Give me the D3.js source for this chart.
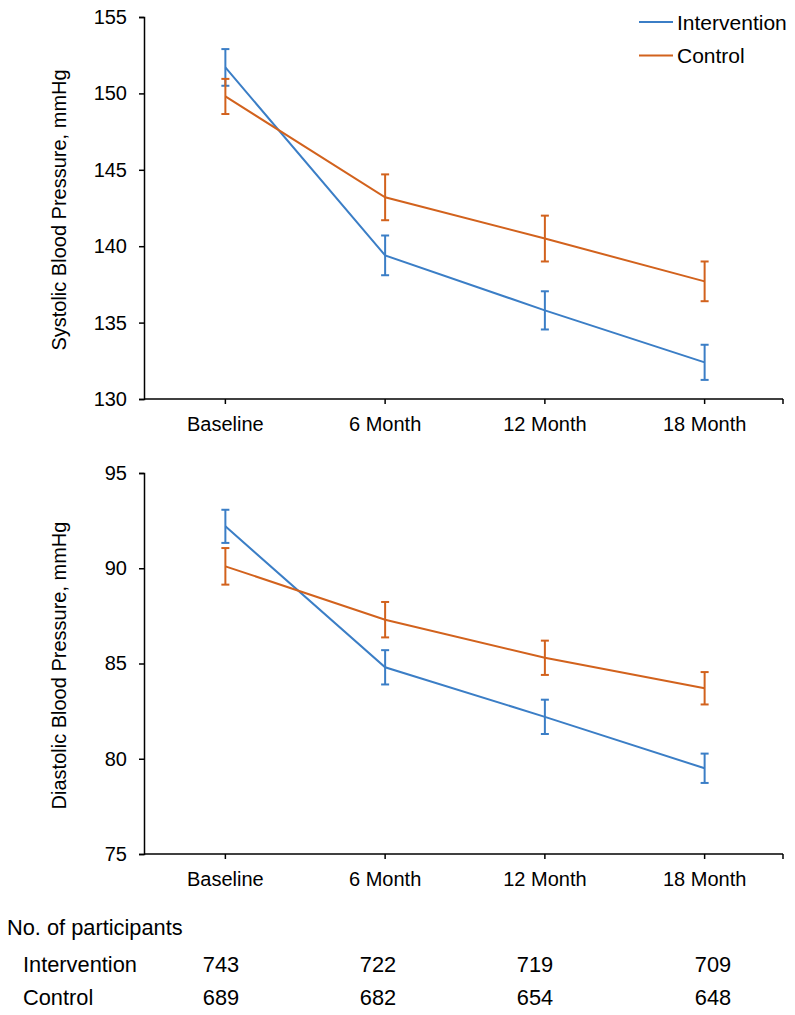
<!DOCTYPE html>
<html><head><meta charset="utf-8">
<script src="https://cdn.jsdelivr.net/npm/d3@7"></script>
<style>
body{margin:0;background:#fff;}
text{font-family:"Liberation Sans",Arial,sans-serif;fill:#000;}
</style></head>
<body>
<svg id="chart" width="795" height="1015"></svg>
<script>
const categories = ["Baseline", "6 Month", "12 Month", "18 Month"];
const seriesNames = ["Intervention", "Control"];

const sbpIntervention = [151.7, 139.4, 135.8, 132.4];
const sbpInterventionErr = [1.2, 1.3, 1.25, 1.15];
const sbpControl = [149.8, 143.2, 140.5, 137.7];
const sbpControlErr = [1.15, 1.5, 1.5, 1.3];

const dbpIntervention = [92.2, 84.8, 82.2, 79.5];
const dbpInterventionErr = [0.87, 0.9, 0.9, 0.77];
const dbpControl = [90.1, 87.3, 85.3, 83.7];
const dbpControlErr = [0.96, 0.93, 0.9, 0.85];

const sbpTicks = [130, 135, 140, 145, 150, 155];
const dbpTicks = [75, 80, 85, 90, 95];

const participantsIntervention = [743, 722, 719, 709];
const participantsControl = [689, 682, 654, 648];

const colors = {Intervention: "#3b7ec6", Control: "#d2621d"};
const svg = d3.select("#chart");

const left = 144, right = 783;
const x = d3.scaleBand().domain(categories).range([left, right]);
const cx = c => x(c) + x.bandwidth() / 2 + 1.5;

function panel(top, bottom, domain, ticks, title, intv, intvErr, ctl, ctlErr) {
  const y = d3.scaleLinear().domain(domain).range([bottom, top]);
  const g = svg.append("g");
  const ya = g.append("g").attr("transform", `translate(${left},0)`)
    .call(d3.axisLeft(y).tickValues(ticks).tickSize(5).tickPadding(12).tickFormat(d3.format("d")));
  ya.select(".domain").attr("stroke", "#000").attr("stroke-width", 1.5);
  ya.selectAll(".tick line").attr("stroke", "#000").attr("stroke-width", 1.5);
  ya.selectAll(".tick text").attr("font-size", 20).attr("font-family", "Liberation Sans, Arial, sans-serif").attr("fill", "#000");
  g.append("line").attr("x1", left).attr("x2", right).attr("y1", bottom).attr("y2", bottom)
    .attr("stroke", "#000").attr("stroke-width", 1.5);
  const tickXs = categories.map(cx).concat([right]);
  g.selectAll(".xt").data(tickXs).enter().append("line")
    .attr("x1", d => d).attr("x2", d => d).attr("y1", bottom).attr("y2", bottom + 5)
    .attr("stroke", "#000").attr("stroke-width", 1.5);
  g.selectAll(".xl").data(categories).enter().append("text")
    .attr("x", d => cx(d)).attr("y", bottom + 32).attr("text-anchor", "middle")
    .attr("font-size", 20).text(d => d);
  g.append("text").attr("transform", `translate(66,${(top + bottom) / 2 + 2}) rotate(-90)`)
    .attr("text-anchor", "middle").attr("font-size", 20).text(title);

  const series = [
    {name: "Intervention", vals: intv, err: intvErr},
    {name: "Control", vals: ctl, err: ctlErr}
  ];
  const line = d3.line().x((d, i) => cx(categories[i])).y(d => y(d));
  series.forEach(s => {
    const col = colors[s.name];
    g.append("path").datum(s.vals).attr("d", line).attr("fill", "none")
      .attr("stroke", col).attr("stroke-width", 2);
    const eb = g.append("g");
    s.vals.forEach((v, i) => {
      const xx = cx(categories[i]);
      const y1 = y(v + s.err[i]), y2 = y(v - s.err[i]);
      eb.append("line").attr("x1", xx).attr("x2", xx).attr("y1", y1).attr("y2", y2)
        .attr("stroke", col).attr("stroke-width", 2);
      [y1, y2].forEach(yy => eb.append("line").attr("x1", xx - 4).attr("x2", xx + 4)
        .attr("y1", yy).attr("y2", yy).attr("stroke", col).attr("stroke-width", 2));
    });
  });
}

panel(17, 399, [130, 155], sbpTicks, "Systolic Blood Pressure, mmHg",
  sbpIntervention, sbpInterventionErr, sbpControl, sbpControlErr);
panel(473, 854, [75, 95], dbpTicks, "Diastolic Blood Pressure, mmHg",
  dbpIntervention, dbpInterventionErr, dbpControl, dbpControlErr);

const leg = svg.append("g");
seriesNames.forEach((n, i) => {
  const yy = 22 + i * 33.5;
  leg.append("line").attr("x1", 639).attr("x2", 673).attr("y1", yy).attr("y2", yy)
    .attr("stroke", colors[n]).attr("stroke-width", 2);
  leg.append("text").attr("x", 677).attr("y", yy).attr("dy", "0.36em")
    .attr("font-size", 21).text(n);
});

const tableCols = [221, 378, 535, 713];
const tab = svg.append("g");
tab.append("text").attr("x", 7).attr("y", 935).attr("font-size", 21.8).text("No. of participants");
[["Intervention", participantsIntervention, 971.5], ["Control", participantsControl, 1005]].forEach(([lab, vals, yy]) => {
  tab.append("text").attr("x", 23).attr("y", yy).attr("font-size", 21.8).text(lab);
  tab.selectAll(null).data(vals).enter().append("text")
    .attr("x", (d, i) => tableCols[i]).attr("y", yy).attr("text-anchor", "middle")
    .attr("font-size", 21.8).text(d => d);
});
</script>
</body></html>
